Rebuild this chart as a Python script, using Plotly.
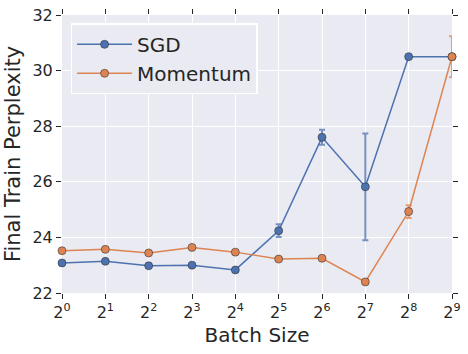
import plotly.graph_objects as go

batch_sizes = [1, 2, 4, 8, 16, 32, 64, 128, 256, 512]
tick_labels = ["2<sup>%d</sup>" % i for i in range(10)]

sgd_ppl = [23.08, 23.14, 22.98, 23.0, 22.83, 24.24, 27.6, 25.82, 30.5, 30.5]
sgd_err = [0.02, 0.02, 0.02, 0.02, 0.02, 0.23, 0.27, 1.92, 0.05, 0.05]

mom_ppl = [23.52, 23.57, 23.44, 23.64, 23.47, 23.22, 23.25, 22.4, 24.93, 30.5]
mom_err = [0.02, 0.02, 0.02, 0.02, 0.02, 0.02, 0.02, 0.02, 0.23, 0.74]

blue = '#4C72B0'
orange = '#DD8452'

fig = go.Figure()

# SGD
fig.add_trace(go.Scatter(
    x=batch_sizes, y=sgd_ppl, mode='lines+markers', name='SGD',
    line=dict(color=blue, width=1.5),
    marker=dict(size=8, color=blue, line=dict(color='#333333', width=0.6)),
    error_y=dict(type='data', array=sgd_err, color='rgba(76,114,176,0.75)', thickness=2, width=3),
    cliponaxis=False
))

# Momentum
fig.add_trace(go.Scatter(
    x=batch_sizes, y=mom_ppl, mode='lines+markers', name='Momentum',
    line=dict(color=orange, width=1.5),
    marker=dict(size=8, color=orange, line=dict(color='#333333', width=0.6)),
    error_y=dict(type='data', array=mom_err, color='rgba(221,132,82,0.75)', thickness=2, width=3),
    cliponaxis=False
))

axis_common = dict(
    showgrid=True, gridcolor='white', gridwidth=1.2,
    zeroline=False, showline=False, automargin=False,
    ticks='outside', ticklen=5, tickwidth=1.2, tickcolor='#262626',
    mirror='ticks',
    tickfont=dict(size=16, color='#262626'),
)

fig.update_layout(
    width=468, height=354,
    margin=dict(l=62, r=16, t=15, b=61),
    paper_bgcolor='white',
    plot_bgcolor='#EAEAF2',
    font=dict(family='DejaVu Sans', color='#262626'),
    showlegend=True,
    legend=dict(
        x=0.022, y=0.97, xanchor='left', yanchor='top',
        bgcolor='#EAEAF2', bordercolor='white', borderwidth=1.5,
        font=dict(size=20, color='#262626'),
        itemwidth=55,
    ),
    xaxis=dict(
        type='log', range=[0, 9 * 0.30103],
        tickvals=batch_sizes, ticktext=tick_labels,
        title=dict(text='Batch Size', font=dict(size=20), standoff=6),
        **axis_common
    ),
    yaxis=dict(
        range=[22, 32], tickvals=[22, 24, 26, 28, 30, 32],
        title=dict(text='Final Train Perplexity', font=dict(size=21), standoff=6),
        **axis_common
    ),
)

# the page body has a default 8px margin; drop it so the figure fills the window
fig.write_html("out.html", config={'displayModeBar': False},
               post_script="document.body.style.margin='0';")
